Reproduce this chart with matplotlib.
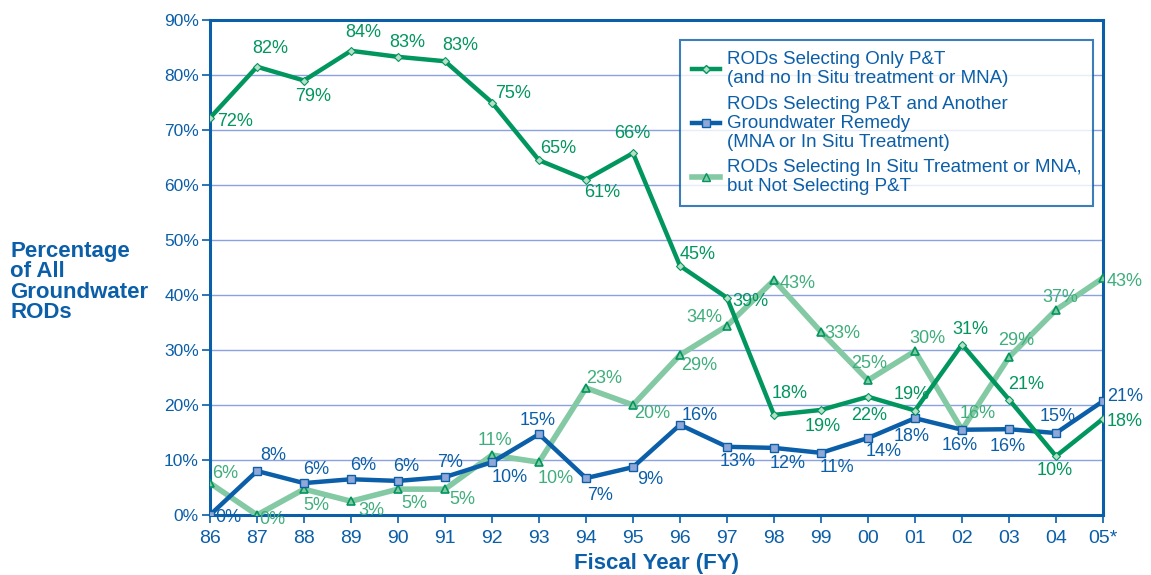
import matplotlib
matplotlib.use("Agg")
import matplotlib.pyplot as plt
from matplotlib.lines import Line2D

plt.rcParams['font.family'] = ['Liberation Sans', 'DejaVu Sans']

# data (percent of all groundwater RODs)
years = ['86', '87', '88', '89', '90', '91', '92', '93', '94', '95',
         '96', '97', '98', '99', '00', '01', '02', '03', '04', '05*']
only_pt = [72.2, 81.5, 79, 84.4, 83.3, 82.5, 75, 64.5, 61, 65.8,
           45.3, 39.5, 18.2, 19.1, 21.5, 19, 31, 21, 10.7, 17.5]
pt_other = [0, 8, 5.8, 6.5, 6.2, 6.9, 9.6, 14.7, 6.7, 8.7,
            16.4, 12.4, 12.2, 11.3, 14, 17.6, 15.5, 15.6, 14.9, 20.7]
insitu = [5.8, 0, 4.7, 2.5, 4.7, 4.7, 10.9, 9.6, 23.1, 20,
          29.1, 34.4, 42.7, 33.3, 24.5, 29.8, 15.5, 28.7, 37.3, 43.1]
only_pt_lbl = ['72%', '82%', '79%', '84%', '83%', '83%', '75%', '65%', '61%', '66%',
               '45%', '39%', '18%', '19%', '22%', '19%', '31%', '21%', '10%', '18%']
pt_other_lbl = ['0%', '8%', '6%', '6%', '6%', '7%', '10%', '15%', '7%', '9%',
                '16%', '13%', '12%', '11%', '14%', '18%', '16%', '16%', '15%', '21%']
insitu_lbl = ['6%', '0%', '5%', '3%', '5%', '5%', '11%', '10%', '23%', '20%',
              '29%', '34%', '43%', '33%', '25%', '30%', '16%', '29%', '37%', '43%']

# label offsets in pixels (dx, dy)
off_green = [(25, -4), (13, 18), (9, -16), (12, 18), (9, 14), (15, 16), (21, 9), (19, 12),
             (16, -13), (-1, 20), (18, 11), (23, -4), (16, 21), (2, -17), (1, -19),
             (-3, 16), (8, 15), (17, 15), (-1, -14), (22, -3)]
off_blue = [(18, -3), (16, 16), (12, 14), (12, 14), (8, 14), (5, 15), (18, -15), (-1, 14),
            (14, -17), (17, -12), (20, 9), (11, -15), (14, -16), (16, -15), (16, -14),
            (-3, -18), (-2, -16), (-1, -17), (2, 17), (22, 5)]
off_light = [(15, 10), (15, -4), (12, -16), (20, -9), (16, -14), (17, -10), (3, 15), (17, -16),
             (18, 9), (19, -9), (19, -11), (-23, 8), (24, -3), (21, -2), (1, 17),
             (12, 13), (16, 16), (7, 17), (4, 12), (22, -4)]

GREEN = '#00965e'
BLUE = '#0b5ea8'
LIGHT = '#82c9a4'
LIGHT_TXT = '#3fae7c'
GRID = '#8aa2e2'

fig = plt.figure(figsize=(11.51, 5.75), dpi=100)
ax = fig.add_axes([210 / 1151, 60 / 575, 893 / 1151, 495 / 575])
x = list(range(len(years)))

ax.plot(x, insitu, color=LIGHT, lw=4, marker='^', ms=6, mfc=LIGHT, mec=GREEN, mew=1.2, zorder=3)
ax.plot(x, pt_other, color=BLUE, lw=3.2, marker='s', ms=6, mfc='#8fa8d8', mec=BLUE, mew=1, zorder=4)
ax.plot(x, only_pt, color=GREEN, lw=3.2, marker='D', ms=4, mfc='#b8e0c8', mec=GREEN, mew=0.8, zorder=5)

for vals, lbls, offs, col in [(only_pt, only_pt_lbl, off_green, GREEN),
                              (pt_other, pt_other_lbl, off_blue, BLUE),
                              (insitu, insitu_lbl, off_light, LIGHT_TXT)]:
    for i, (v, t) in enumerate(zip(vals, lbls)):
        ax.annotate(t, (i, v), xytext=offs[i], textcoords='offset pixels',
                    ha='center', va='center', fontsize=13, color=col, zorder=6,
                    annotation_clip=False)

ax.set_xlim(0, len(years) - 1)
ax.set_ylim(0, 90)
ax.set_yticks(range(0, 91, 10))
ax.set_yticklabels(['{}%'.format(v) for v in range(0, 91, 10)])
ax.set_xticks(x)
ax.set_xticklabels(years)
ax.yaxis.grid(True, color=GRID, lw=1)
ax.set_axisbelow(True)
for s in ax.spines.values():
    s.set_color(BLUE)
    s.set_linewidth(2.2)
ax.tick_params(axis='both', colors=BLUE, length=6, width=1.2)
ax.tick_params(axis='y', labelsize=12.5, pad=2)
ax.tick_params(axis='x', labelsize=14, pad=5)

ax.set_xlabel('Fiscal Year (FY)', fontsize=16, fontweight='bold', color=BLUE, labelpad=4)
fig.text(10 / 1151, 1 - 282 / 575, 'Percentage\nof All\nGroundwater\nRODs', ha='left', va='center',
         fontsize=16, fontweight='bold', color=BLUE, linespacing=0.95)

handles = [
    Line2D([], [], color=GREEN, lw=3.2, marker='D', ms=4, mfc='#b8e0c8', mec=GREEN),
    Line2D([], [], color=BLUE, lw=3.2, marker='s', ms=6, mfc='#8fa8d8', mec=BLUE),
    Line2D([], [], color=LIGHT, lw=4, marker='^', ms=6, mfc=LIGHT, mec=GREEN),
]
labels = ['RODs Selecting Only P&T\n(and no In Situ treatment or MNA)',
          'RODs Selecting P&T and Another\nGroundwater Remedy\n(MNA or In Situ Treatment)',
          'RODs Selecting In Situ Treatment or MNA,\nbut Not Selecting P&T']
leg = ax.legend(handles, labels, loc='upper right', bbox_to_anchor=(1093 / 1151, 1 - 40 / 575),
                bbox_transform=fig.transFigure, fontsize=13.5, frameon=True, fancybox=False,
                handlelength=1.5, handletextpad=0.4, labelspacing=0.45, borderpad=0.6,
                borderaxespad=0, labelcolor=BLUE)
leg.get_frame().set_edgecolor(BLUE)
leg.get_frame().set_linewidth(1.5)
leg.set_zorder(10)
for t in leg.get_texts():
    t.set_linespacing(1.15)

fig.savefig('out.png', dpi=100)
